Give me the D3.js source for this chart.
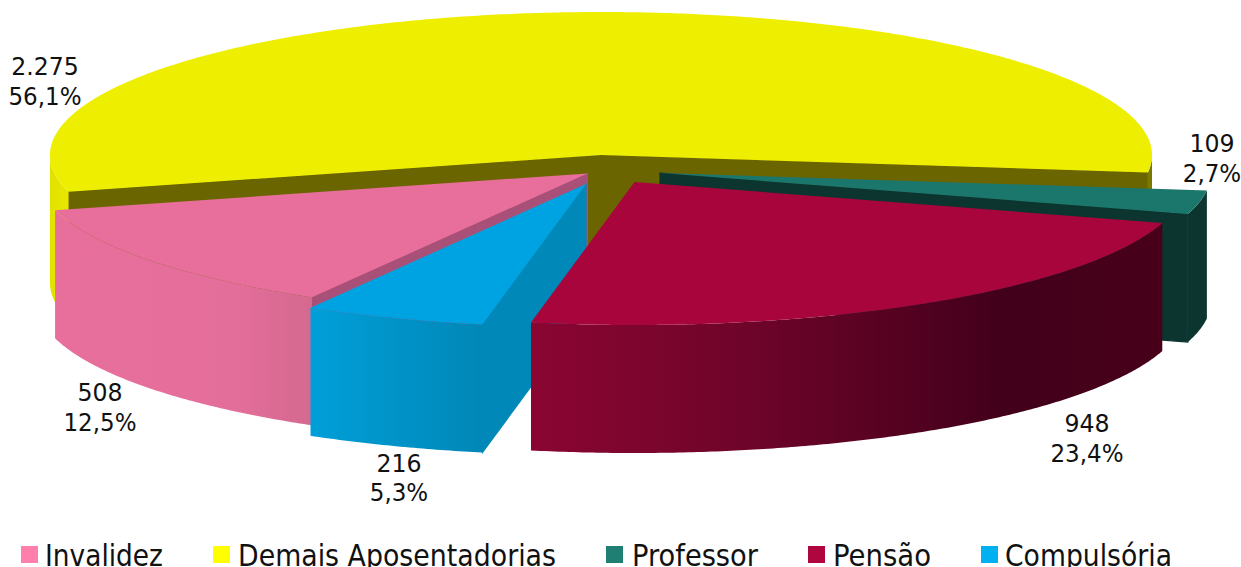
<!DOCTYPE html>
<html><head><meta charset="utf-8">
<script src="https://cdn.jsdelivr.net/npm/d3@7"></script>
<style>html,body{margin:0;padding:0;background:#fff;overflow:hidden}svg{display:block}text{font-family:"DejaVu Sans",sans-serif;fill:#111}</style>
</head><body><svg id="c" width="1241" height="567"></svg>
<script>
const categories = ["Invalidez","Demais Aposentadorias","Professor","Pensão","Compulsória"];
const values = [508,2275,109,948,216];
const percentLabels = ["12,5%","56,1%","2,7%","23,4%","5,3%"];
const valueLabels = ["508","2.275","109","948","216"];
const legendColors = ["#ff7fac","#ffff00","#1e7f72","#b0063f","#00b0f0"];
const topColors = ["#e86f9b","#eeee00","#1b766b","#a8053c","#00a3e2"];
const edgeColors = ["#a85078","#6b6500","#0c3530","#450019","#0088b8"];
const wallStops = [
  [[0,"#e86f9b"],[.7,"#e46e9a"],[1,"#d4698f"]],
  [[0,"#e2e200"],[.02,"#e8e800"],[.98,"#8a8a00"],[1,"#777700"]],
  [[0,"#0c3530"],[1,"#0c3530"]],
  [[0,"#8a0632"],[.35,"#6e0429"],[.75,"#42001a"],[1,"#48001a"]],
  [[0,"#009fd9"],[1,"#0087b7"]]
];
const wallRange = [[55,312],[50,1153],[1163,1207],[530,1163],[310,483]];
const apex = [[587.5,173.5],[601,155],[660,173],[634.5,182],[586,184]];
const drawOrder = [1,2,0,4,3];
const labelPos = [[100,401,431],[45,75,105],[1212,152,182],[1087,432,462],[399,472,501]];
const legendSwatchX = [21,213,606,808,981];
const legendTextX = [45,238,632,833,1005];
const legendTextW = [118,318,126,98,167];

const svg = d3.select("#c");
const R = Math.PI/180;
const sx = d3.scaleLinear().domain([-1,1]).range([-551,551]);
const sy = d3.scaleLinear().domain([-1,1]).range([-143,143]);
const depth = 128;
const pie = d3.pie().sort(null).value(d=>d).startAngle(-150*R).endAngle(210*R);
const arcs = pie(values);
const line = d3.line();
const pt = (c,a,dz=0)=>[c[0]+sx(Math.sin(a)), c[1]+sy(-Math.cos(a))+dz];
const sample = (a0,a1)=>{const n=Math.max(2,Math.ceil((a1-a0)/(0.5*R)));return d3.range(n+1).map(i=>a0+(a1-a0)*i/n);};
const defs = svg.append("defs");
arcs.forEach((d,i)=>{
  const g = defs.append("linearGradient").attr("id","w"+i).attr("gradientUnits","userSpaceOnUse")
    .attr("x1",wallRange[i][0]).attr("x2",wallRange[i][1]).attr("y1",0).attr("y2",0);
  wallStops[i].forEach(s=>g.append("stop").attr("offset",s[0]).attr("stop-color",s[1]));
});
function frontRanges(a0,a1){
  return [[-270*R,-90*R],[90*R,270*R]].map(r=>[Math.max(a0,r[0]),Math.min(a1,r[1])]).filter(r=>r[1]>r[0]);
}
drawOrder.forEach(i=>{
  const d = arcs[i], c = apex[i], g = svg.append("g").attr("class","slice");
  const a0=d.startAngle, a1=d.endAngle;
  const edge = a=>[c,pt(c,a),pt(c,a,depth),[c[0],c[1]+depth]];
  const addEdge = a=>g.append("path").attr("d",line(edge(a))+"Z").attr("fill",edgeColors[i]).attr("stroke",edgeColors[i]).attr("stroke-width",1.2);
  if(-Math.sin(a0)>0) addEdge(a0);
  if(Math.sin(a1)>0) addEdge(a1);
  frontRanges(a0,a1).forEach(r=>{
    const s=sample(r[0],r[1]);
    const p=s.map(a=>pt(c,a)).concat(s.slice().reverse().map(a=>pt(c,a,depth)));
    g.append("path").attr("d",line(p)+"Z").attr("fill",`url(#w${i})`);
  });
  const top=[c].concat(sample(a0,a1).map(a=>pt(c,a)));
  g.append("path").attr("d",line(top)+"Z").attr("fill",topColors[i]);
});
const squeeze = (sel,f)=>{const n=sel.node();sel.attr("textLength",n.getComputedTextLength()*f).attr("lengthAdjust","spacingAndGlyphs");};
categories.forEach((k,i)=>{
  const p=labelPos[i];
  squeeze(svg.append("text").attr("x",p[0]).attr("y",p[1]-0.5).attr("text-anchor","middle").attr("font-size",25).text(valueLabels[i]),.945);
  squeeze(svg.append("text").attr("x",p[0]).attr("y",p[2]-0.5).attr("text-anchor","middle").attr("font-size",25).text(percentLabels[i]),.92);
  svg.append("rect").attr("x",legendSwatchX[i]).attr("y",546).attr("width",17).attr("height",17).attr("fill",legendColors[i]);
  svg.append("text").attr("x",legendTextX[i]).attr("y",566).attr("font-size",31)
    .attr("textLength",legendTextW[i]).attr("lengthAdjust","spacingAndGlyphs").text(k);
});
</script></body></html>
